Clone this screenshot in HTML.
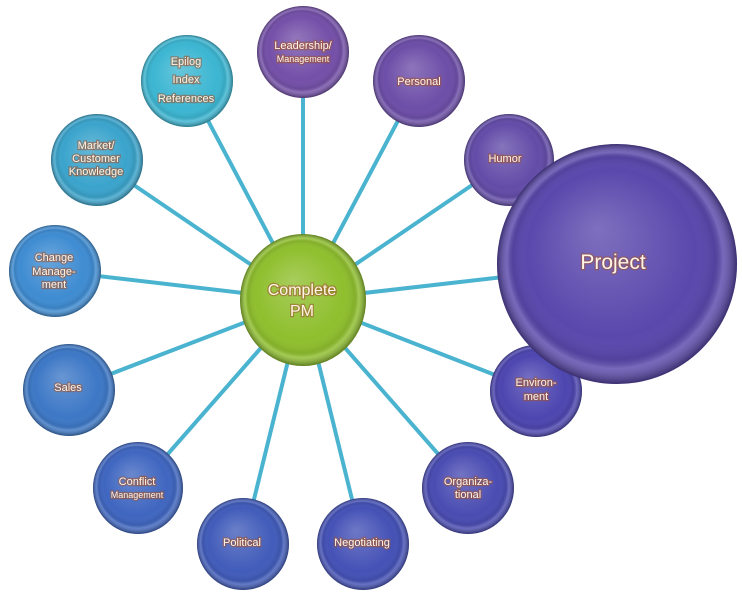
<!DOCTYPE html>
<html><head><style>body{margin:0;background:#fff}svg{display:block}
text{font-family:"Liberation Sans",sans-serif;fill:#fff6e6;text-anchor:middle;paint-order:stroke;stroke:#a0522d;stroke-width:2.5px;stroke-opacity:.55}</style></head>
<body>
<svg width="742" height="600" viewBox="0 0 742 600" xmlns="http://www.w3.org/2000/svg">
<defs>
<radialGradient id="sh" cx="0.5" cy="0.5" r="0.5" fx="0.42" fy="0.35"><stop offset="0" stop-color="#fff" stop-opacity=".22"/><stop offset=".7" stop-color="#fff" stop-opacity="0"/><stop offset=".84" stop-color="#000" stop-opacity=".08"/><stop offset=".9" stop-color="#fff" stop-opacity=".18"/><stop offset="1" stop-color="#000" stop-opacity=".35"/></radialGradient>
</defs>
<g stroke="#4ab3cf" stroke-width="4">
<line x1="303" y1="300" x2="303" y2="52"/><line x1="303" y1="300" x2="419" y2="81"/>
<line x1="303" y1="300" x2="509" y2="160"/><line x1="303" y1="300" x2="617" y2="264"/>
<line x1="303" y1="300" x2="536" y2="391"/><line x1="303" y1="300" x2="468" y2="488"/>
<line x1="303" y1="300" x2="363" y2="544"/><line x1="303" y1="300" x2="243" y2="544"/>
<line x1="303" y1="300" x2="138" y2="488"/><line x1="303" y1="300" x2="69" y2="390"/>
<line x1="303" y1="300" x2="55" y2="271"/><line x1="303" y1="300" x2="97" y2="160"/>
<line x1="303" y1="300" x2="187" y2="81"/>
</g>
<g id="c1">
<ellipse cx="303" cy="52" rx="46" ry="46" fill="#7450a8"/>
<ellipse cx="303" cy="52" rx="46" ry="46" fill="url(#sh)"/>
<ellipse cx="419" cy="81" rx="46" ry="46" fill="#6d4ea8"/>
<ellipse cx="419" cy="81" rx="46" ry="46" fill="url(#sh)"/>
<ellipse cx="509" cy="160" rx="45" ry="46" fill="#634ca8"/>
<ellipse cx="509" cy="160" rx="45" ry="46" fill="url(#sh)"/>
<ellipse cx="536" cy="391" rx="46" ry="46" fill="#4d46b0"/>
<ellipse cx="536" cy="391" rx="46" ry="46" fill="url(#sh)"/>
<ellipse cx="617" cy="264" rx="120" ry="120" fill="#5a48ac"/>
<ellipse cx="617" cy="264" rx="120" ry="120" fill="url(#sh)"/>
<ellipse cx="468" cy="488" rx="46" ry="46" fill="#4a4cb2"/>
<ellipse cx="468" cy="488" rx="46" ry="46" fill="url(#sh)"/>
<ellipse cx="363" cy="544" rx="46" ry="46" fill="#4552b6"/>
<ellipse cx="363" cy="544" rx="46" ry="46" fill="url(#sh)"/>
<ellipse cx="243" cy="544" rx="46" ry="46" fill="#415cba"/>
<ellipse cx="243" cy="544" rx="46" ry="46" fill="url(#sh)"/>
<ellipse cx="138" cy="488" rx="45" ry="46" fill="#3f66c0"/>
<ellipse cx="138" cy="488" rx="45" ry="46" fill="url(#sh)"/>
<ellipse cx="69" cy="390" rx="46" ry="46" fill="#3d78c6"/>
<ellipse cx="69" cy="390" rx="46" ry="46" fill="url(#sh)"/>
<ellipse cx="55" cy="271" rx="46" ry="46" fill="#3f8cd2"/>
<ellipse cx="55" cy="271" rx="46" ry="46" fill="url(#sh)"/>
<ellipse cx="97" cy="160" rx="46" ry="46" fill="#3ba4cc"/>
<ellipse cx="97" cy="160" rx="46" ry="46" fill="url(#sh)"/>
<ellipse cx="187" cy="81" rx="46" ry="46" fill="#3cb6d2"/>
<ellipse cx="187" cy="81" rx="46" ry="46" fill="url(#sh)"/>
<ellipse cx="303" cy="300" rx="63" ry="66" fill="#8fbf2e"/>
<ellipse cx="303" cy="300" rx="63" ry="66" fill="url(#sh)"/>
</g>
<text x="303" y="49" font-size="11">Leadership/</text><text x="303" y="62" font-size="9">Management</text>
<text x="419" y="85" font-size="11">Personal</text>
<text x="505" y="162" font-size="11">Humor</text>
<text x="613" y="269" font-size="21">Project</text>
<text x="536" y="386" font-size="11">Environ-</text><text x="536" y="400" font-size="11">ment</text>
<text x="468" y="485" font-size="11">Organiza-</text><text x="468" y="498" font-size="11">tional</text>
<text x="362" y="546" font-size="11">Negotiating</text>
<text x="242" y="546" font-size="11">Political</text>
<text x="137" y="485" font-size="11">Conflict</text><text x="137" y="498" font-size="9">Management</text>
<text x="68" y="391" font-size="11">Sales</text>
<text x="54" y="261" font-size="11">Change</text><text x="54" y="275" font-size="11">Manage-</text><text x="54" y="288" font-size="11">ment</text>
<text x="96" y="149" font-size="11">Market/</text><text x="96" y="162" font-size="11">Customer</text><text x="96" y="175" font-size="11">Knowledge</text>
<text x="186" y="65" font-size="11">Epilog</text><text x="186" y="83" font-size="11">Index</text><text x="186" y="102" font-size="11">References</text>
<text x="302" y="295" font-size="16">Complete</text><text x="302" y="316" font-size="16">PM</text>
</svg>
</body></html>
